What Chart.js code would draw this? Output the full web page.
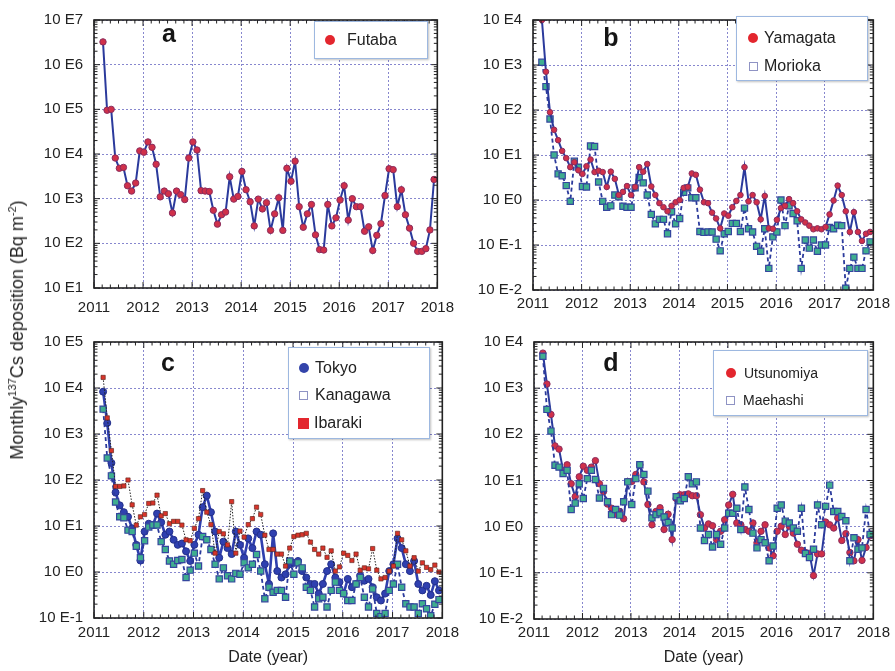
<!DOCTYPE html>
<html lang="en">
<head>
<meta charset="UTF-8">
<title>Monthly 137Cs deposition</title>
<script src="https://cdn.jsdelivr.net/npm/chart.js"></script>
<style>
  body { margin: 0; background: #fff; font-family: "Liberation Sans", Arial, sans-serif; color: #222; }
  #wrap { position: relative; width: 895px; height: 671px; overflow: hidden; }
  canvas { position: absolute; }
  .letter { position: absolute; font-weight: bold; font-size: 25px; transform: translate(-50%, -50%); color: #151515; }
  .legend { position: absolute; background: #fff; border: 1.5px solid #9db8e0; box-shadow: 1px 1px 2px rgba(0,0,0,.25); box-sizing: border-box; }
  .row { position: absolute; left: 0; display: flex; align-items: center; white-space: nowrap; font-size: 16px; line-height: 18px; transform: translateY(-50%); }
  .dot { display: inline-block; width: 10px; height: 10px; border-radius: 50%; background: #e3262e; }
  .blue { background: #3344aa; }
  .open { display: inline-block; width: 9px; height: 9px; border: 1.5px solid #8f93c4; background: #fff; box-sizing: border-box; }
  .sq { display: inline-block; width: 11px; height: 11px; background: #e3262e; }
  #ytitle { position: absolute; left: 17px; top: 330px; transform: translate(-50%, -50%) rotate(-90deg); font-size: 18px; white-space: nowrap; }
  #ytitle sup { font-size: 11px; }
</style>
</head>
<body>
<div id="wrap">
  <canvas id="chartA" width="465" height="322" style="left:0;top:0"></canvas>
  <canvas id="chartB" width="430" height="322" style="left:465px;top:0"></canvas>
  <canvas id="chartC" width="465" height="349" style="left:0;top:322px"></canvas>
  <canvas id="chartD" width="430" height="349" style="left:465px;top:322px"></canvas>

  <div id="ytitle">Monthly<sup>137</sup>Cs deposition (Bq m<sup>-2</sup>)</div>

  <div class="letter" style="left:169px;top:33px">a</div>
  <div class="letter" style="left:611px;top:37px">b</div>
  <div class="letter" style="left:168px;top:362px">c</div>
  <div class="letter" style="left:611px;top:362px">d</div>

  <div class="legend" style="left:314px;top:21px;width:114px;height:38px">
    <div class="row" style="top:18px;left:10px"><span class="dot"></span><span style="margin-left:12px">Futaba</span></div>
  </div>
  <div class="legend" style="left:736px;top:16px;width:132px;height:65px">
    <div class="row" style="top:21px;left:11px"><span class="dot"></span><span style="margin-left:6px">Yamagata</span></div>
    <div class="row" style="top:49px;left:12px"><span class="open"></span><span style="margin-left:6px">Morioka</span></div>
  </div>
  <div class="legend" style="left:288px;top:347px;width:142px;height:92px">
    <div class="row" style="top:20px;left:10px"><span class="dot blue"></span><span style="margin-left:6px">Tokyo</span></div>
    <div class="row" style="top:47px;left:10px"><span class="open"></span><span style="margin-left:7px">Kanagawa</span></div>
    <div class="row" style="top:75px;left:9px"><span class="sq"></span><span style="margin-left:5px">Ibaraki</span></div>
  </div>
  <div class="legend" style="left:713px;top:350px;width:155px;height:66px">
    <div class="row" style="top:22px;left:12px;font-size:14px"><span class="dot"></span><span style="margin-left:8px">Utsunomiya</span></div>
    <div class="row" style="top:49px;left:12px;font-size:14px"><span class="open"></span><span style="margin-left:8px">Maehashi</span></div>
  </div>
</div>

<script>
// monthly samples, March 2011 .. December 2017
const firstMonth = 2;
const nMonths = 82;
const months = [];
for (let i = 0; i < nMonths; i++) months.push(2011 + (firstMonth + i + 0.2) / 12);

const years = [2011, 2012, 2013, 2014, 2015, 2016, 2017, 2018];
const ticksA = [1e1, 1e2, 1e3, 1e4, 1e5, 1e6, 1e7];
const ticksB = [1e-2, 1e-1, 1e0, 1e1, 1e2, 1e3, 1e4];
const ticksC = [1e-1, 1e0, 1e1, 1e2, 1e3, 1e4, 1e5];
const ticksD = [1e-2, 1e-1, 1e0, 1e1, 1e2, 1e3, 1e4];

// values, as log10 of the deposition (Bq m-2)
const futaba = [6.51, 4.98, 5.0, 3.91, 3.68, 3.70, 3.29, 3.17, 3.35, 4.07, 4.04, 4.27, 4.15, 3.77, 3.04, 3.17, 3.11, 2.68, 3.17, 3.09,
  2.98, 3.91, 4.27, 4.09, 3.18, 3.17, 3.16, 2.74, 2.43, 2.64, 2.70, 3.49, 2.99, 3.05, 3.61, 3.20, 2.93, 2.39, 2.99, 2.77,
  2.91, 2.29, 2.66, 3.02, 2.29, 3.68, 3.39, 3.84, 2.82, 2.36, 2.66, 2.87, 2.19, 1.86, 1.85, 2.87, 2.39, 2.57, 2.97, 3.29,
  2.52, 3.00, 2.82, 2.82, 2.27, 2.37, 1.84, 2.18, 2.44, 3.07, 3.67, 3.65, 2.82, 3.20, 2.64, 2.34, 2.00, 1.82, 1.82, 1.88,
  2.30, 3.43];
const yamagata = [4.0, 2.85, 1.95, 1.56, 1.33, 1.09, 0.93, 0.73, 0.84, 0.66, 0.58, 0.75, 0.90, 0.62, 0.65, 0.62, 0.29, 0.63, 0.47, 0.11,
  0.18, 0.31, 0.11, 0.29, 0.73, 0.63, 0.80, 0.30, 0.11, -0.07, -0.16, -0.25, -0.13, -0.05, 0.0, 0.27, 0.29, 0.59, 0.56, 0.23,
  -0.05, -0.07, -0.28, -0.41, -0.63, -0.30, -0.35, -0.16, -0.02, 0.11, 0.73, -0.03, 0.11, -0.05, -0.43, 0.09, -0.63, -0.64, -0.44, -0.18,
  -0.13, 0.02, -0.07, -0.25, -0.43, -0.50, -0.57, -0.65, -0.63, -0.65, -0.60, -0.32, -0.01, 0.32, 0.11, -0.25, -0.71, -0.27, -0.71, -0.91,
  -0.75, -0.71];
const morioka = [3.06, 2.52, 1.80, 1.0, 0.58, 0.54, 0.32, -0.03, 0.86, 0.73, 0.30, 0.29, 1.20, 1.19, 0.40, -0.03, -0.16, -0.13, 0.11, 0.07,
  -0.14, -0.16, -0.16, 0.27, 0.50, 0.38, 0.11, -0.32, -0.53, -0.43, -0.43, -0.75, -0.26, -0.53, -0.41, 0.17, 0.27, 0.05, 0.05, -0.70,
  -0.72, -0.71, -0.71, -0.87, -1.13, -0.75, -0.70, -0.52, -0.52, -0.70, -0.18, -0.64, -0.71, -1.03, -1.14, -0.64, -1.52, -0.82, -0.71, 0.0,
  -0.57, -0.13, -0.30, -0.46, -1.52, -0.89, -1.07, -0.89, -1.14, -1.0, -1.0, -0.61, -0.64, -0.56, -0.57, -1.96, -1.52, -1.27, -1.52, -1.52,
  -1.13, -0.93];
const tokyo = [3.92, 3.24, 2.37, 1.73, 1.45, 1.30, 1.20, 0.95, 0.59, 0.25, 0.88, 1.05, 1.02, 1.27, 1.08, 0.81, 0.88, 0.70, 0.59, 0.62,
  0.45, 0.24, 0.59, 0.81, 1.41, 1.66, 1.30, 0.88, 0.31, 0.66, 0.52, 0.39, 0.88, 0.59, 0.31, 0.73, 0.52, 0.88, 0.81, 0.17,
  -0.26, 0.84, 0.02, -0.12, -0.05, 0.17, 0.20, 0.24, 0.02, -0.12, -0.26, -0.26, -0.47, -0.26, 0.02, 0.17, -0.12, -0.22, -0.47, -0.15,
  -0.33, -0.26, -0.08, -0.19, -0.15, -0.33, -0.55, -0.62, -0.47, 0.02, 0.17, 0.73, 0.52, 0.17, 0.02, 0.24, -0.26, -0.40, -0.30, -0.50,
  -0.20, -0.40];
const kanagawa = [3.54, 2.48, 2.09, 1.52, 1.20, 1.18, 0.91, 0.88, 0.56, 0.31, 0.68, 0.98, 1.02, 1.02, 0.66, 0.49, 0.24, 0.17, 0.25, 0.27,
  -0.12, 0.04, 0.41, 0.13, 0.77, 0.70, 0.49, 0.17, -0.15, 0.09, -0.08, -0.15, -0.03, -0.05, 0.20, 0.09, 0.17, 0.38, 0.02, -0.58,
  -0.33, -0.44, -0.40, -0.40, -0.55, 0.24, -0.05, 0.20, 0.09, -0.33, -0.40, -0.76, -0.58, -0.55, -0.76, -0.40, -0.22, -0.40, -0.47, -0.62,
  -0.62, -0.26, -0.12, -0.55, -0.76, -0.37, -0.90, -0.97, -0.90, -0.40, -0.26, 0.17, -0.33, -0.69, -0.76, -0.76, -0.90, -0.69, -0.80, -0.95,
  -0.70, -0.60];
const ibaraki = [4.23, 3.35, 2.64, 1.86, 1.86, 1.87, 2.0, 1.46, 1.02, 1.20, 1.25, 1.49, 1.50, 1.67, 1.22, 1.27, 1.05, 1.10, 1.10, 1.02,
  0.70, 0.68, 0.95, 1.16, 1.77, 1.30, 1.03, 0.41, 0.88, 0.83, 0.59, 1.53, 0.41, 0.89, 0.76, 1.03, 1.16, 1.41, 1.25, 0.80,
  0.49, 0.49, 0.39, 0.39, 0.13, 0.52, 0.77, 0.80, 0.81, 0.84, 0.65, 0.49, 0.39, 0.52, 0.32, 0.46, 0.02, 0.11, 0.41, 0.36,
  0.25, 0.39, 0.04, 0.09, 0.07, 0.51, 0.04, -0.15, -0.12, 0.02, 0.13, 0.84, 0.70, 0.46, 0.13, 0.31, 0.02, 0.20, 0.10, 0.05,
  0.15, 0.0];
const utsunomiya = [3.76, 3.09, 2.43, 1.75, 1.68, 1.22, 1.34, 0.93, 0.65, 1.08, 1.31, 1.22, 1.29, 1.43, 0.93, 0.76, 0.49, 0.40, 0.27, 0.33,
  0.17, 0.98, 0.98, 1.13, 1.34, 0.97, 0.48, 0.04, 0.33, 0.41, -0.06, 0.27, -0.28, 0.61, 0.69, 0.69, 0.71, 0.67, 0.67, 0.26,
  -0.03, 0.06, 0.02, -0.28, -0.10, 0.15, 0.47, 0.70, 0.08, 0.04, -0.06, -0.10, 0.08, -0.35, -0.10, 0.04, -0.46, -0.63, -0.10, 0.01,
  -0.17, 0.01, -0.14, -0.38, -0.51, -0.56, -0.58, -1.06, -0.59, -0.59, 0.10, 0.04, -0.03, 0.19, -0.30, -0.15, -0.56, -0.74, -0.28, -0.73,
  -0.45, -0.20];
const maehashi = [3.69, 2.54, 2.07, 1.33, 1.29, 1.15, 1.22, 0.37, 0.51, 0.93, 0.61, 1.04, 1.22, 1.02, 0.62, 0.83, 0.54, 0.26, 0.37, 0.25,
  0.54, 0.97, 0.48, 1.04, 1.34, 1.13, 0.77, 0.19, 0.26, 0.30, 0.21, 0.09, -0.03, 0.65, 0.56, 0.61, 1.08, 0.93, 0.97, -0.03,
  -0.30, -0.17, -0.44, -0.17, -0.38, -0.03, 0.29, 0.29, 0.40, -0.06, 0.86, 0.37, -0.14, -0.46, -0.28, -0.35, -0.74, -0.42, 0.40, 0.47,
  0.12, 0.08, -0.03, -0.10, 0.40, -0.58, -0.67, -0.49, 0.47, 0.04, 0.44, 0.90, 0.33, 0.33, 0.22, 0.13, -0.74, -0.24, -0.49, -0.46,
  0.37, -0.17];

const pts = logs => logs.map((v, i) => ({ x: months[i], y: Math.pow(10, v) }));

const font = { family: '"Liberation Sans", Arial, sans-serif', size: 15 };
const gridColor = 'rgba(95, 95, 190, 0.75)';
const lineBlue = '#2b3a9c';

// solid line with red dots
function redDots(label, logs, r) {
  return { label, data: pts(logs), borderColor: lineBlue, borderWidth: 2, pointStyle: 'circle', pointRadius: r,
    pointBackgroundColor: '#d0304a', pointBorderColor: '#8a2c5c', pointBorderWidth: 1 };
}
// dashed line with green squares
function greenSquares(label, logs) {
  return { label, data: pts(logs), borderColor: lineBlue, borderWidth: 1.8, borderDash: [4, 3], pointStyle: 'rect', pointRadius: 4.4,
    pointBackgroundColor: '#3fae8f', pointBorderColor: '#34469e', pointBorderWidth: 1.2 };
}

// box around the plot with inward minor ticks
const frame = {
  id: 'frame',
  afterDatasetsDraw(chart) {
    const { ctx, chartArea: a, scales: { x, y } } = chart;
    ctx.save();
    ctx.strokeStyle = '#222';
    ctx.lineWidth = 1;
    ctx.beginPath();
    for (let k = 0; k <= 42; k++) {
      const px = x.getPixelForValue(2011 + k / 6);
      const len = k % 6 === 0 ? 6 : 3.5;
      ctx.moveTo(px, a.bottom); ctx.lineTo(px, a.bottom - len);
      ctx.moveTo(px, a.top); ctx.lineTo(px, a.top + len);
    }
    const d0 = Math.round(Math.log10(y.min)), d1 = Math.round(Math.log10(y.max));
    for (let d = d0; d <= d1; d++) {
      for (let k = 1; k <= 9; k++) {
        const v = k * Math.pow(10, d);
        if (v > y.max * 1.0001) break;
        const py = y.getPixelForValue(v);
        const len = k === 1 ? 6 : 3.5;
        ctx.moveTo(a.left, py); ctx.lineTo(a.left + len, py);
        ctx.moveTo(a.right, py); ctx.lineTo(a.right - len, py);
      }
    }
    ctx.stroke();
    ctx.lineWidth = 1.6;
    ctx.strokeRect(a.left, a.top, a.right - a.left, a.bottom - a.top);
    ctx.restore();
  }
};

function panel(id, datasets, yTicks, o) {
  return new Chart(document.getElementById(id), {
    type: 'line',
    data: { datasets },
    plugins: [frame],
    options: {
      responsive: false,
      animation: false,
      layout: { padding: { top: o.top, right: o.right, left: 0, bottom: 0 } },
      plugins: { legend: { display: false }, tooltip: { enabled: false } },
      scales: {
        x: {
          type: 'linear', min: 2011, max: 2018,
          afterBuildTicks: s => { s.ticks = years.map(v => ({ value: v })); },
          ticks: { callback: v => String(v), font, color: '#222', padding: o.xPad, maxRotation: 0, autoSkip: false },
          grid: { color: gridColor, lineWidth: 1, drawTicks: false },
          border: { display: false, dash: [2, 2] },
          title: { display: !!o.title, text: 'Date (year)', font: { family: font.family, size: 16 }, color: '#222', padding: { top: 0, bottom: 4 } },
          afterFit: s => { s.height = o.xH; }
        },
        y: {
          type: 'logarithmic', min: yTicks[0], max: yTicks[yTicks.length - 1],
          afterBuildTicks: s => { s.ticks = yTicks.map(v => ({ value: v })); },
          ticks: { callback: v => '10 E' + Math.round(Math.log10(v)), font, color: '#222', padding: 11, autoSkip: false },
          grid: { color: gridColor, lineWidth: 1, drawTicks: false },
          border: { display: false, dash: [2, 2] },
          afterFit: s => { s.width = o.yW; }
        }
      }
    }
  });
}

panel('chartA', [redDots('Futaba', futaba, 3.2)], ticksA, { top: 9, right: 21, yW: 94, xH: 34, xPad: 11 });

panel('chartB', [redDots('Yamagata', yamagata, 2.8), greenSquares('Morioka', morioka)], ticksB,
  { top: 10, right: 15, yW: 68, xH: 32, xPad: 5 });

panel('chartC', [
  { label: 'Ibaraki', data: pts(ibaraki), borderColor: '#222', borderWidth: 1, borderDash: [1.5, 1.5], pointStyle: 'rect', pointRadius: 3,
    pointBackgroundColor: '#d8342a', pointBorderColor: '#6a2a22', pointBorderWidth: 0.7 },
  greenSquares('Kanagawa', kanagawa),
  { label: 'Tokyo', data: pts(tokyo), borderColor: '#2f3fae', borderWidth: 2.6, pointStyle: 'circle', pointRadius: 3.5,
    pointBackgroundColor: '#2f40b0', pointBorderColor: '#24308a', pointBorderWidth: 1 }
], ticksC, { top: 14, right: 21, yW: 94, xH: 53, xPad: 6, title: true });

panel('chartD', [greenSquares('Maehashi', maehashi), redDots('Utsunomiya', utsunomiya, 3.2)], ticksD,
  { top: 16, right: 15, yW: 69, xH: 52, xPad: 5, title: true });
</script>
</body>
</html>
